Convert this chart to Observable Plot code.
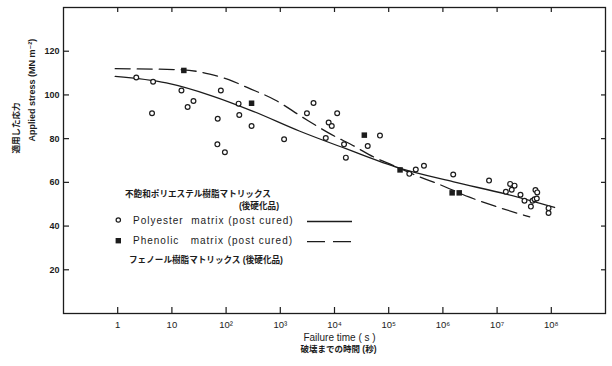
<!DOCTYPE html>
<html><head><meta charset="utf-8">
<script src="https://cdn.jsdelivr.net/npm/d3@7"></script>
<script src="https://cdn.jsdelivr.net/npm/@observablehq/plot@0.6"></script>
<style>
body{margin:0;background:#fff;}
#chart{width:612px;height:366px;}
svg text{font-family:"Liberation Sans","DejaVu Sans","Noto Sans CJK JP",sans-serif;}
</style></head><body><div id="chart"></div>
<script>
// Polyester matrix (post cured): failure time (s), applied stress (MN m^-2)
const polyTime = [2.2, 4.5, 4.3, 15, 19.5, 25, 80, 70, 170, 175, 295, 69, 95, 1175, 3100, 4100, 7800, 8900, 11200, 6900, 15000, 16200, 69000, 41000, 240000, 316000, 447000, 1.55e6, 7.1e6, 1.74e7, 2.1e7, 1.86e7, 1.45e7, 2.7e7, 3.2e7, 4.2e7, 4.5e7, 4.9e7, 5.4e7, 5.1e7, 5.5e7, 8.9e7, 8.9e7];
const polyStress = [108.0, 106, 91.6, 102, 94.5, 97.2, 102, 89.1, 96, 90.8, 85.8, 77.4, 73.8, 79.7, 91.6, 96.3, 87.4, 85.8, 91.6, 80.3, 77.4, 71.3, 81.4, 76.6, 63.9, 65.9, 67.6, 63.6, 60.8, 59.3, 58.5, 56.6, 55.7, 54.3, 51.6, 48.9, 51.6, 52.3, 52.6, 56.5, 55.4, 48.2, 46.0];
// Phenolic matrix (post cured)
const phenTime = [16.6, 295, 35500, 162000, 1.48e6, 2.0e6];
const phenStress = [111.2, 96.2, 81.6, 65.7, 55.2, 55.2];
// Fitted curves
const polyCurveTime = [0.9, 7.9, 56, 316, 2240, 15800, 158000, 1.58e6, 1.48e7, 1.15e8];
const polyCurveStress = [108.5, 105.5, 99.5, 92.5, 83.5, 75.5, 66.5, 60.2, 54.6, 48.5];
const phenCurveTime = [0.9, 16, 50, 112, 250, 800, 2500, 7900, 23000, 52000, 117000, 347000, 871000, 3.1e6, 8.9e6, 4.0e7];
const phenCurveStress = [112, 111.5, 109.5, 107, 103.3, 97.7, 90, 82.5, 76.6, 71.7, 67.9, 62.8, 59.0, 53.2, 49.2, 44.2];
// Ticks
const xTickValues = [1, 10, 1e2, 1e3, 1e4, 1e5, 1e6, 1e7, 1e8];
const xTickLabels = ["1", "10", "10²", "10³", "10⁴", "10⁵", "10⁶", "10⁷", "10⁸"];
const yTickValues = [20, 40, 60, 80, 100, 120];
// Texts
const xTitle = "Failure time ( s )";
const xTitleJa = "破壊までの時間 (秒)";
const yTitle = "Applied stress (MN m⁻²)";
const yTitleJa = "適用した応力";
const legendHeadJa = "不飽和ポリエステル樹脂マトリックス";
const legendHeadJa2 = "(後硬化品)";
const legendPoly = "Polyester  matrix (post cured)";
const legendPhen = "Phenolic   matrix (post cured)";
const legendFootJa = "フェノール樹脂マトリックス (後硬化品)";

const W = 612, H = 366, mL = 63, mR = 7, mT = 7, mB = 53;
const innerW = W - mL - mR, innerH = H - mT - mB;
const ink = "#1c1c1c";

const polyPts = polyTime.map((t, i) => ({t, s: polyStress[i]}));
const phenPts = phenTime.map((t, i) => ({t, s: phenStress[i]}));
const polyCurve = polyCurveTime.map((t, i) => ({t, s: polyCurveStress[i]}));
const phenCurve = phenCurveTime.map((t, i) => ({t, s: phenCurveStress[i]}));
const xLabelMap = new Map(xTickValues.map((v, i) => [v, xTickLabels[i]]));

const plot = Plot.plot({
  width: W, height: H,
  marginLeft: mL, marginRight: mR, marginTop: mT, marginBottom: mB,
  style: {background: "#fff", color: ink},
  x: {type: "log", domain: [0.1, 1e9], label: null},
  y: {domain: [0, 140], label: null},
  marks: [
    Plot.frame({stroke: ink, strokeWidth: 1.3}),
    // inward ticks
    Plot.tickX(xTickValues, {x: d => d, insetTop: innerH - 6, stroke: ink, strokeWidth: 1.2}),
    Plot.tickX(xTickValues, {x: d => d, insetBottom: innerH - 5, stroke: ink, strokeWidth: 1.2}),
    Plot.tickY(yTickValues, {y: d => d, insetRight: innerW - 6, stroke: ink, strokeWidth: 1.2}),
    Plot.tickY(yTickValues, {y: d => d, insetLeft: innerW - 4, stroke: ink, strokeWidth: 1.2}),
    Plot.axisX(xTickValues, {tickSize: 0, tickPadding: 8, tickFormat: d => xLabelMap.get(d), fontSize: 9.5, fill: ink}),
    Plot.axisY(yTickValues, {tickSize: 0, tickPadding: 4, fontSize: 9, fontWeight: "bold", fill: ink}),
    // curves
    Plot.line(polyCurve, {x: "t", y: "s", curve: "monotone-x", stroke: ink, strokeWidth: 1.3}),
    Plot.line(phenCurve, {x: "t", y: "s", curve: "monotone-x", stroke: ink, strokeWidth: 1.3, strokeDasharray: "15,7"}),
    // points
    Plot.dot(polyPts, {x: "t", y: "s", r: 2.4, stroke: ink, strokeWidth: 1.2, fill: "#fff"}),
    Plot.dot(phenPts, {x: "t", y: "s", r: 3.1, symbol: "square", fill: ink, stroke: "none"}),
    // axis titles
    Plot.text([xTitle], {text: d => d, frameAnchor: "bottom", dx: 5, dy: 27, fontSize: 10, fill: ink, style: "letter-spacing:0.8px"}),
    Plot.text([xTitleJa], {text: d => d, frameAnchor: "bottom", dx: 4, dy: 38, fontSize: 8.5, fontWeight: "bold", fill: ink}),
    Plot.text([yTitle], {text: d => d, frameAnchor: "left", rotate: -90, dx: -31, dy: -19, fontSize: 9, fontWeight: 600, fill: ink, style: "letter-spacing:0.5px"}),
    Plot.text([yTitleJa], {text: d => d, frameAnchor: "left", rotate: -90, dx: -47, dy: -7, fontSize: 8.5, fontWeight: "bold", fill: ink})
  ]
});

// legend inside the plotting area
const svg = d3.select(plot);
const lg = svg.append("g").attr("fill", ink).attr("text-anchor", "start")
  .attr("font-family", "'Liberation Sans','DejaVu Sans','Noto Sans CJK JP',sans-serif");
lg.append("text").attr("x", 125).attr("y", 193.5).attr("dy", "0.35em").attr("text-anchor", "start").attr("font-size", 8.6).attr("font-weight", "bold").text(legendHeadJa);
lg.append("text").attr("x", 279).attr("y", 206).attr("dy", "0.35em").attr("text-anchor", "end").attr("font-size", 8.6).attr("font-weight", "bold").text(legendHeadJa2);
lg.append("circle").attr("cx", 118.3).attr("cy", 220).attr("r", 2.2).attr("fill", "#fff").attr("stroke", ink).attr("stroke-width", 1.2);
lg.append("text").attr("x", 133).attr("y", 220).attr("dy", "0.35em").attr("text-anchor", "start").attr("font-size", 10).style("letter-spacing", "1px").style("white-space", "pre").text(legendPoly);
lg.append("line").attr("x1", 307).attr("x2", 352).attr("y1", 221.5).attr("y2", 221.5).attr("stroke", ink).attr("stroke-width", 1.3);
lg.append("rect").attr("x", 115.6).attr("y", 238).attr("width", 5.4).attr("height", 5.4).attr("fill", ink);
lg.append("text").attr("x", 133).attr("y", 240.7).attr("dy", "0.35em").attr("text-anchor", "start").attr("font-size", 10).style("letter-spacing", "1px").style("white-space", "pre").text(legendPhen);
lg.append("line").attr("x1", 307).attr("x2", 352).attr("y1", 241.7).attr("y2", 241.7).attr("stroke", ink).attr("stroke-width", 1.3).attr("stroke-dasharray", "18,8");
lg.append("text").attr("x", 129).attr("y", 260).attr("dy", "0.35em").attr("text-anchor", "start").attr("font-size", 8.6).attr("font-weight", "bold").text(legendFootJa);

document.getElementById("chart").appendChild(plot);
</script></body></html>
